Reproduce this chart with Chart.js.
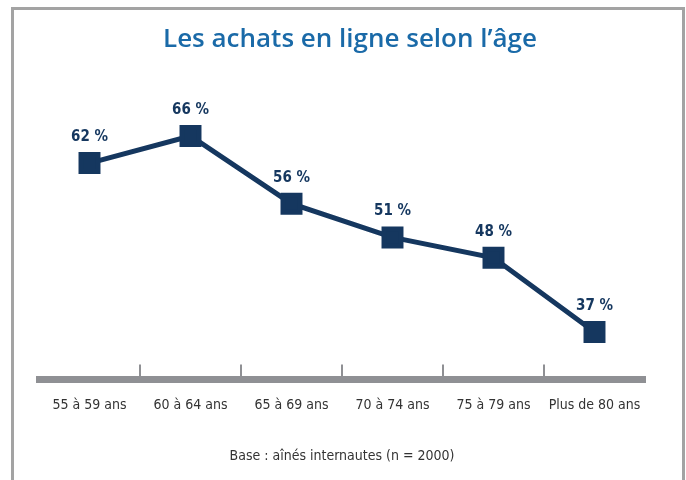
<!DOCTYPE html>
<html>
<head>
<meta charset="utf-8">
<script src="https://cdn.jsdelivr.net/npm/chart.js@4/dist/chart.umd.min.js"></script>
<style>
  body { margin: 0; background: #fff; }
  #wrap { position: relative; width: 686px; height: 480px; overflow: hidden; }
  #box { position: absolute; left: 11px; top: 7px; width: 668px; height: 490px; border: 3px solid #a3a3a3; }
  #chart { position: absolute; left: 0; top: 0; }
</style>
</head>
<body>
<div id="wrap">
  <div id="box"></div>
  <canvas id="chart" width="686" height="480"></canvas>
</div>
<script>
// donnees
var ageGroups = ['55 à 59 ans', '60 à 64 ans', '65 à 69 ans', '70 à 74 ans', '75 à 79 ans', 'Plus de 80 ans'];
var achats = [62, 66, 56, 51, 48, 37];
var titre = 'Les achats en ligne selon l\u2019âge';
var note = 'Base : aînés internautes (n = 2000)';

var navy = '#15375f';
var grey = '#8f9094';
var condensed = "'Liberation Sans Narrow', 'DejaVu Sans Condensed', sans-serif";

// titre centre sur le cadre
var titlePlugin = {
    id: 'boxTitle',
    afterDraw: function(chart) {
        var ctx = chart.ctx;
        ctx.save();
        ctx.fillStyle = '#1a6aa8';
        ctx.font = "600 26px 'Open Sans', sans-serif";
        ctx.textAlign = 'center';
        ctx.textBaseline = 'middle';
        ctx.fillText(titre, 350, 40);
        ctx.restore();
    }
};

// petites graduations entre les categories, vers le haut
var ticksPlugin = {
    id: 'ticksUp',
    afterDatasetsDraw: function(chart) {
        var ctx = chart.ctx;
        var x = chart.scales.x;
        var bottom = chart.chartArea.bottom;
        ctx.save();
        ctx.strokeStyle = grey;
        ctx.lineWidth = 2;
        for (var i = 0; i < ageGroups.length - 1; i++) {
            var px = (x.getPixelForValue(i) + x.getPixelForValue(i + 1)) / 2;
            ctx.beginPath();
            ctx.moveTo(px, bottom - 15);
            ctx.lineTo(px, bottom);
            ctx.stroke();
        }
        ctx.restore();
    }
};

// etiquettes "62 %" au-dessus des points
var labelsPlugin = {
    id: 'valueLabels',
    afterDatasetsDraw: function(chart) {
        var ctx = chart.ctx;
        var meta = chart.getDatasetMeta(0);
        ctx.save();
        ctx.fillStyle = navy;
        ctx.font = "bold 15px " + condensed;
        ctx.textAlign = 'center';
        ctx.textBaseline = 'middle';
        meta.data.forEach(function(pt, i) {
            ctx.fillText(achats[i] + ' %', pt.x, pt.y - 26);
        });
        ctx.restore();
    }
};

var ctx = document.getElementById('chart').getContext('2d');
var chart = new Chart(ctx, {
    type: 'line',
    data: {
        labels: ageGroups,
        datasets: [{
            data: achats,
            borderColor: navy,
            backgroundColor: navy,
            borderWidth: 5,
            pointStyle: 'rect',
            pointRadius: 12,
            pointHoverRadius: 12,
            tension: 0
        }]
    },
    options: {
        responsive: false,
        animation: false,
        layout: { padding: { left: 39, right: 41, top: 109, bottom: 0 } },
        plugins: {
            legend: { display: false },
            tooltip: { enabled: false },
            title: { display: false },
            subtitle: {
                display: true,
                position: 'bottom',
                text: note,
                color: '#333',
                font: { family: condensed, size: 14 },
                padding: { top: 16, bottom: 15 }
            }
        },
        scales: {
            x: {
                offset: true,
                grid: { display: false, drawOnChartArea: false, drawTicks: false },
                border: { display: true, color: grey, width: 7 },
                ticks: {
                    color: '#333', padding: 18, maxRotation: 0, minRotation: 0, autoSkip: false,
                    font: { family: condensed, size: 14 }
                }
            },
            y: {
                display: false,
                min: 30,
                max: 70
            }
        }
    },
    plugins: [ticksPlugin, labelsPlugin, titlePlugin]
});
</script>
</body>
</html>
